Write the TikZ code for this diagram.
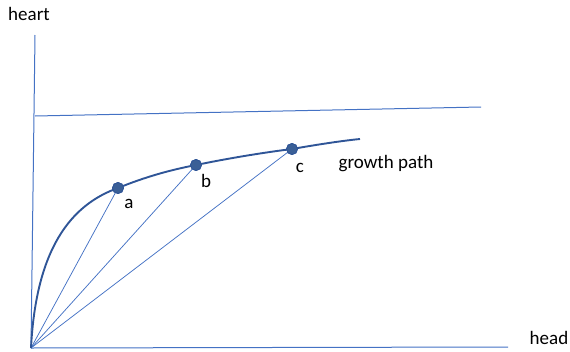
\documentclass[tikz,border=0pt]{standalone}
\usepackage{fontspec}
\setmainfont{Carlito}
\usepackage{tikz}
\usetikzlibrary{positioning, calc}
\definecolor{axisblue}{HTML}{4472C4}
\definecolor{pathblue}{HTML}{2F5597}
\definecolor{dotblue}{HTML}{3A5F96}
\tikzset{
	axisline/.style={
			draw=axisblue,
			line width=1pt
		},
	rayline/.style={
			draw=axisblue,
			line width=0.75pt
		},
	growthline/.style={
			draw=pathblue,
			line width=1.9pt
		},
	pointnode/.style={
			circle,
			draw=pathblue,
			fill=dotblue,
			line width=0.8pt,
			minimum size=11pt,
			inner sep=0pt
		},
	labelnode/.style={
			font=\fontsize{19}{22}\selectfont,
			text=black,
			inner sep=1pt
		}
}

\begin{document}
\begin{tikzpicture}[x=1pt, y=-1pt]
\useasboundingbox (0,0) rectangle (570,351);

% axes
\coordinate (O) at (31,348);
\coordinate (yTop) at (35,35);
\coordinate (xEnd) at (508,347);
\coordinate (limL) at (35,116);
\coordinate (limR) at (481,107);
\coordinate (pEnd) at (360,139);

\draw[axisline] (O) -- (yTop);
\draw[axisline] (O) -- (xEnd);
\draw[axisline] (limL) -- (limR);

% points on the growth path
\node[pointnode] (pA) at (118,188) {};
\node[pointnode] (pB) at (196,165) {};
\node[pointnode] (pC) at (292,149) {};

% rays from the origin
\draw[rayline] (O) -- (pA.center);
\draw[rayline] (O) -- (pB.center);
\draw[rayline] (O) -- (pC.center);

% growth path
\draw[growthline] (O) .. controls (36,250) and (70,205) .. (pA.center)
  .. controls (145,177) and (170,170) .. (pB.center)
  .. controls (225,159) and (260,153) .. (pC.center)
  .. controls (315,145) and (340,141) .. (pEnd);

\node[pointnode] at (pA) {};
\node[pointnode] at (pB) {};
\node[pointnode] at (pC) {};

% labels
\node[labelnode] (lA) at (129,204) {a};
\node[labelnode] (lB) at (206,181) {b};
\node[labelnode] (lC) at (300,168) {c};
\node[labelnode] (lPath) at (386,164) {growth path};
\node[labelnode] (lHeart) at (29,14) {heart};
\node[labelnode] (lHead) at (549,338) {head};

\end{tikzpicture}
\end{document}
